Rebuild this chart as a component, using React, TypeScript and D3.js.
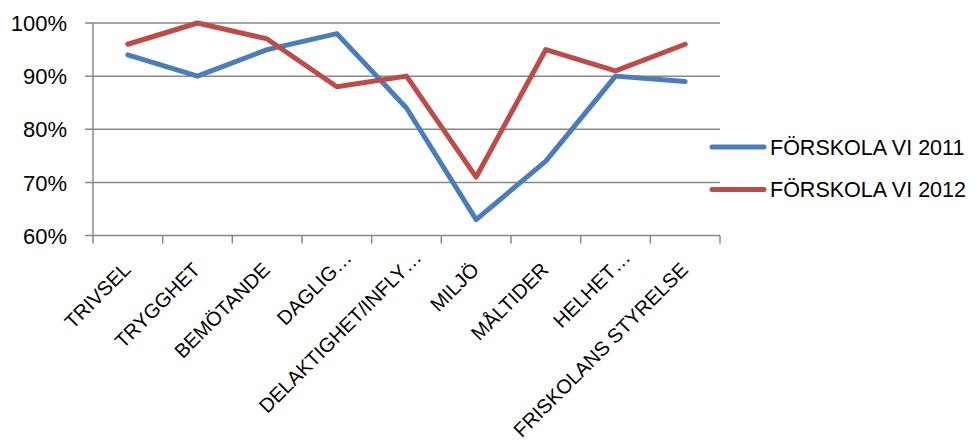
import React from "react";
import * as d3 from "d3";

const categories = [
  "TRIVSEL",
  "TRYGGHET",
  "BEMÖTANDE",
  "DAGLIG…",
  "DELAKTIGHET/INFLY…",
  "MILJÖ",
  "MÅLTIDER",
  "HELHET…",
  "FRISKOLANS STYRELSE",
];
const series2011 = [94, 90, 95, 98, 84, 63, 74, 90, 89];
const series2012 = [96, 100, 97, 88, 90, 71, 95, 91, 96];
const seriesNames = ["FÖRSKOLA VI 2011", "FÖRSKOLA VI 2012"];
const seriesColors = ["#4A7EBB", "#BE4B48"];
const yTicks = [60, 70, 80, 90, 100];

const W = 975;
const H = 441;
const FONT = "'Liberation Sans', Arial, sans-serif";

export default function App() {
  const x = d3.scaleBand<string>().domain(categories).range([93, 720]).padding(0);
  const y = d3.scaleLinear().domain([60, 100]).range([235.5, 23]);
  const line = d3
    .line<number>()
    .x((_, i) => (x(categories[i]) as number) + x.bandwidth() / 2)
    .y((d) => y(d));
  const allSeries = [series2011, series2012];
  const grid = "#878787";
  const tickXs = categories.map((c) => x(c) as number).concat([720]);

  return (
    <svg
      width={W}
      height={H}
      style={{ position: "fixed", left: 0, top: 0, background: "#fff" }}
    >
      <rect width={W} height={H} fill="#fff" />
      {yTicks.map((t) => (
        <g key={t}>
          <line x1={85} x2={720} y1={y(t)} y2={y(t)} stroke={grid} strokeWidth={1.5} />
          <text
            x={67}
            y={y(t)}
            dy="0.37em"
            textAnchor="end"
            fontFamily={FONT}
            fontSize={22}
            fill="#000"
          >
            {t}%
          </text>
        </g>
      ))}
      <line x1={93} x2={93} y1={y(100)} y2={y(60)} stroke={grid} strokeWidth={1.5} />
      {tickXs.map((tx, i) => (
        <line key={i} x1={tx} x2={tx} y1={y(60)} y2={y(60) + 8} stroke={grid} strokeWidth={1.5} />
      ))}
      {categories.map((c) => {
        const cx = (x(c) as number) + x.bandwidth() / 2 + 4;
        const cy = 271;
        const extra = c.endsWith("…") ? 17 : 0;
        return (
          <text
            key={c}
            x={cx}
            y={cy}
            dx={extra}
            textAnchor="end"
            fontFamily={FONT}
            fontSize={20}
            fill="#000"
            transform={`rotate(-45 ${cx} ${cy})`}
          >
            {c}
          </text>
        );
      })}
      {allSeries.map((s, i) => (
        <path
          key={i}
          d={line(s) as string}
          fill="none"
          stroke={seriesColors[i]}
          strokeWidth={5}
          strokeLinejoin="round"
          strokeLinecap="round"
        />
      ))}
      {seriesNames.map((n, i) => {
        const ly = 147 + i * 42.5;
        return (
          <g key={n}>
            <line
              x1={712}
              x2={764}
              y1={ly}
              y2={ly}
              stroke={seriesColors[i]}
              strokeWidth={5}
              strokeLinecap="round"
            />
            <text x={770} y={ly} dy="0.36em" fontFamily={FONT} fontSize={21.5} fill="#000">
              {n}
            </text>
          </g>
        );
      })}
    </svg>
  );
}
